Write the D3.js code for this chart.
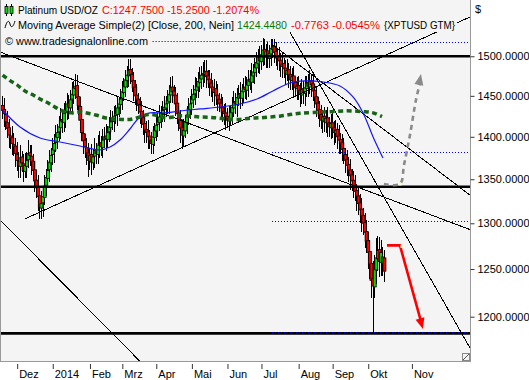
<!DOCTYPE html>
<html><head><meta charset="utf-8">
<script src="https://cdn.jsdelivr.net/npm/d3@7"></script>
<style>body{margin:0;background:#fff}svg{display:block;font-family:"Liberation Sans",Arial,sans-serif}</style>
</head><body><svg id="c" width="529" height="380"></svg>
<script>
// ---------- DATA ----------
const openP=[1438,1433,1427,1417,1411,1401,1399,1391,1389,1379,
1371,1365,1376,1368,1359,1365,1373,1381,1377,1371,
1361,1349,1341,1331,1317,1323,1329,1343,1351,1361,
1369,1379,1384,1393,1399,1406,1411,1421,1417,1429,
1431,1441,1435,1446,1451,1459,1463,1449,1437,1421,
1404,1396,1387,1381,1371,1379,1369,1377,1385,1379,
1391,1393,1387,1397,1401,1397,1406,1411,1419,1419,
1426,1427,1436,1439,1447,1454,1461,1469,1475,1483,
1477,1469,1461,1451,1446,1439,1431,1423,1416,1409,
1406,1401,1396,1391,1399,1407,1415,1417,1425,1427,
1433,1435,1441,1443,1451,1461,1456,1451,1441,1429,
1421,1411,1401,1407,1417,1425,1433,1441,1445,1453,
1457,1461,1467,1471,1477,1477,1481,1475,1471,1466,
1461,1454,1459,1451,1446,1441,1436,1431,1429,1425,
1419,1421,1429,1435,1443,1439,1447,1453,1447,1455,
1461,1457,1463,1471,1467,1475,1479,1485,1491,1499,
1493,1501,1509,1499,1507,1497,1503,1509,1513,1506,
1497,1501,1495,1487,1491,1485,1477,1483,1477,1469,
1475,1467,1459,1463,1457,1451,1459,1453,1459,1467,
1461,1469,1465,1457,1449,1441,1433,1427,1419,1425,
1417,1423,1417,1411,1417,1411,1404,1409,1401,1397,
1393,1386,1379,1373,1367,1361,1355,1349,1343,1337,
1331,1323,1316,1309,1301,1291,1281,1269,1256,1240,
1231,1249,1261,1271,1257,1256,1262];
const highP=[1450,1447,1434,1431,1421,1411,1413,1404,1398,1394,
1382,1390,1383,1379,1381,1382,1396,1390,1390,1380,
1371,1357,1355,1338,1337,1341,1355,1362,1372,1384,
1387,1398,1403,1414,1416,1425,1435,1431,1441,1444,
1454,1451,1457,1467,1469,1478,1476,1458,1448,1429,
1418,1403,1398,1393,1387,1391,1386,1398,1393,1402,
1407,1401,1409,1412,1415,1413,1424,1432,1431,1438,
1439,1450,1449,1458,1469,1472,1483,1488,1496,1496,
1485,1480,1470,1465,1453,1449,1444,1432,1427,1419,
1420,1408,1406,1413,1417,1427,1429,1439,1437,1444,
1450,1450,1457,1463,1474,1475,1464,1461,1453,1437,
1432,1420,1422,1426,1437,1447,1450,1459,1463,1473,
1472,1480,1486,1487,1493,1495,1495,1483,1482,1479,
1470,1471,1468,1465,1454,1452,1449,1440,1441,1435,
1437,1439,1448,1456,1454,1460,1463,1467,1465,1472,
1475,1474,1483,1482,1491,1490,1498,1506,1509,1513,
1515,1524,1522,1516,1518,1515,1522,1523,1523,1518,
1510,1512,1504,1505,1498,1495,1496,1491,1488,1485,
1487,1474,1474,1475,1466,1471,1468,1475,1475,1477,
1482,1477,1475,1465,1461,1448,1443,1439,1433,1436,
1432,1436,1424,1427,1429,1419,1420,1417,1414,1404,
1403,1398,1387,1384,1376,1374,1362,1359,1355,1345,
1342,1333,1329,1317,1311,1304,1290,1282,1267,1259,
1265,1284,1286,1285,1282,1274,1271];
const lowP=[1421,1412,1408,1398,1387,1386,1378,1377,1364,1360,
1352,1351,1358,1347,1351,1352,1363,1365,1355,1350,
1335,1329,1314,1305,1305,1307,1321,1331,1343,1347,
1358,1366,1369,1382,1385,1395,1397,1405,1406,1411,
1420,1421,1427,1430,1440,1446,1433,1426,1407,1395,
1380,1375,1366,1353,1361,1355,1361,1363,1368,1368,
1375,1377,1375,1387,1383,1387,1394,1396,1408,1406,
1416,1413,1424,1427,1432,1444,1448,1460,1461,1465,
1455,1444,1439,1431,1428,1415,1410,1402,1392,1393,
1386,1386,1379,1379,1389,1395,1400,1407,1411,1418,
1418,1424,1428,1428,1441,1441,1440,1425,1416,1407,
1393,1386,1388,1398,1403,1414,1421,1426,1435,1439,
1447,1447,1455,1459,1461,1466,1460,1460,1450,1448,
1442,1438,1439,1431,1430,1420,1418,1414,1408,1411,
1407,1413,1415,1424,1427,1424,1437,1434,1438,1441,
1446,1445,1448,1457,1454,1466,1465,1474,1479,1478,
1483,1487,1489,1485,1485,1485,1488,1498,1491,1487,
1482,1481,1474,1472,1472,1463,1468,1460,1457,1457,
1450,1448,1445,1445,1436,1440,1440,1438,1449,1448,
1452,1449,1444,1435,1424,1421,1412,1409,1405,1406,
1404,1400,1400,1397,1399,1390,1392,1386,1379,1380,
1371,1368,1357,1354,1347,1338,1337,1328,1325,1314,
1309,1300,1290,1287,1273,1267,1250,1239,1219,1184,
1219,1234,1248,1241,1243,1243,1236];
const closeP=[1432,1428,1418,1410,1402,1398,1392,1388,1380,1372,
1366,1375,1369,1360,1366,1372,1380,1378,1370,1360,
1348,1340,1330,1318,1322,1330,1342,1352,1360,1370,
1378,1385,1392,1400,1405,1412,1420,1418,1428,1432,
1440,1436,1445,1452,1460,1462,1448,1438,1420,1405,
1395,1388,1380,1372,1378,1370,1376,1384,1380,1390,
1392,1388,1396,1400,1398,1405,1412,1418,1420,1425,
1428,1435,1440,1446,1455,1462,1470,1476,1482,1476,
1468,1460,1450,1445,1438,1430,1422,1415,1408,1405,
1400,1395,1392,1400,1408,1414,1418,1424,1428,1432,
1436,1440,1444,1452,1460,1455,1450,1440,1428,1420,
1410,1402,1408,1418,1426,1434,1440,1446,1452,1458,
1462,1468,1472,1476,1478,1480,1474,1470,1465,1460,
1455,1458,1450,1445,1440,1435,1430,1428,1424,1420,
1422,1430,1436,1442,1440,1448,1452,1448,1456,1460,
1458,1464,1470,1468,1476,1480,1486,1492,1498,1494,
1502,1508,1500,1506,1498,1504,1510,1512,1505,1498,
1500,1494,1488,1490,1484,1478,1482,1476,1470,1474,
1466,1460,1462,1456,1452,1458,1454,1460,1466,1462,
1468,1464,1456,1448,1440,1432,1426,1420,1424,1418,
1422,1416,1412,1416,1410,1405,1408,1400,1396,1392,
1385,1378,1372,1366,1360,1354,1348,1342,1336,1330,
1322,1315,1308,1300,1290,1280,1268,1255,1238,1232,
1250,1262,1270,1258,1268,1263,1247.75];

// moving averages (bar index, value)
const maBlueIdx=[0,10.8,23.1,35.5,47.8,60.2,66.4,72.6,78.7,84.9,91.1,100.4,109.6,122,134.4,146.7,157.3,167.1,177.6,186.9,198.1,208.5,216.6,222.8,229,235.1];
const maBlueVal=[1432.5,1411.8,1398.6,1393.8,1389,1384.3,1387.8,1396.2,1409.4,1424,1428.9,1428.9,1431.3,1433.8,1436.2,1439.9,1446.1,1456.1,1466.1,1468.6,1467.3,1462.3,1448.6,1428.9,1399.8,1374.8];
const ma200Idx=[0,4.6,8.7,13.8,18,23.1,27.3,32.4,37.5,42.7,47.8,52.8,58.2,63.3,68.2,73.6,78.7,84.9,89.9,95.2,100.8,105.3,109.6,115.8,122,128.2,134.4,140.5,146.7,152.9,159.1,165.3,171.4,177.6,183.8,191.8,202.4,212.9,222.8,229,234.5];
const ma200Val=[1476,1469,1464,1456,1452,1446,1442,1436,1431,1429,1430,1428.5,1426,1423,1421.5,1421,1421,1424,1427,1426,1423,1424,1425.5,1425,1424,1423.5,1422.5,1421,1421,1422.5,1423,1424,1425,1427,1428.5,1429.5,1430.5,1431.5,1430.5,1429,1424.45];

// axis ticks
const xTickIdx=[9,31,54,74,95,117,139,160,183,204,226,253];
const xTickLabels=["Dez","2014","Feb","Mrz","Apr","Mai","Jun","Jul","Aug","Sep","Okt","Nov"];
const yTicks=[1200,1250,1300,1350,1400,1450,1500];

// drawings: horizontal levels, fib levels, trend lines [i1,p1,i2,p2]
const hLevels=[1500,1341.4,1183];
const fibLevels=[1519.1,1381.9,1302.4,1184.7];
const fibStartIdx=166.5;
const topDottedLevel=1520.3;
const trendLines=[[-1.6,1505.5,289,1292.9],[13.84,1304.9,289.5,1552],[-1.6,1303.8,88,1150],[166.3,1574,293.5,1155.3],[167.1,1514.6,289,1331.6]];
const greyArrowIdx=[235.7,245.6,248.1,251.8,255.5,258.6];
const greyArrowVal=[1344.5,1344.5,1366.6,1402.2,1444.9,1477.4];
const redArrowIdx=[237.6,245.6,259.8];
const redArrowVal=[1275.6,1275.6,1187.3];

// ---------- CHART ----------
const W=470,H=361;
const svg=d3.select("#c");
const x=d3.scaleLinear().domain([-1.607,288.9]).range([0,W]);
const y=d3.scaleLog().domain([1155.3,1574.1]).range([H,0]);
const yc=p=>Math.round(y(p))+0.5;

svg.append("rect").attr("x",0).attr("y",0).attr("width",W).attr("height",H).attr("fill","#f4f4f4");
svg.append("clipPath").attr("id","pc").append("rect").attr("x",0).attr("y",0).attr("width",W).attr("height",H);
const g=svg.append("g").attr("clip-path","url(#pc)");

// candles
const n=closeP.length;
const cg=g.append("g");
for(let i=0;i<n;i++){
  const cx=x(i),o=openP[i],c=closeP[i];
  cg.append("line").attr("x1",cx).attr("x2",cx).attr("y1",y(highP[i])).attr("y2",y(lowP[i]))
    .attr("stroke","#000").attr("stroke-width",1).attr("shape-rendering","crispEdges");
  const top=y(Math.max(o,c)),bot=y(Math.min(o,c));
  cg.append("rect").attr("x",cx-1.5).attr("width",3).attr("y",top).attr("height",Math.max(1,bot-top))
    .attr("fill",c>=o?"#00e000":"#ff0000").attr("stroke","#000").attr("stroke-width",0.8);
}

// horizontal levels
hLevels.forEach(p=>{
  g.append("line").attr("x1",0).attr("x2",W).attr("y1",y(p)).attr("y2",y(p))
   .attr("stroke","#000").attr("stroke-width",2.6);
});
// dotted
g.append("line").attr("x1",x(0)).attr("x2",x(fibStartIdx)-2).attr("y1",yc(topDottedLevel)).attr("y2",yc(topDottedLevel))
  .attr("stroke","#000").attr("stroke-width",1).attr("stroke-dasharray","1,2");
fibLevels.forEach(p=>{
  g.append("line").attr("x1",Math.round(x(fibStartIdx))).attr("x2",W).attr("y1",yc(p)).attr("y2",yc(p))
   .attr("stroke","#0000ff").attr("stroke-width",1).attr("stroke-dasharray","1,2");
});
// trend lines
trendLines.forEach(t=>{
  g.append("line").attr("x1",x(t[0])).attr("y1",y(t[1])).attr("x2",x(t[2])).attr("y2",y(t[3]))
   .attr("stroke","#000").attr("stroke-width",1).attr("shape-rendering","crispEdges");
});

// MAs
const lineGen=d3.line().x(d=>x(d[0])).y(d=>y(d[1])).curve(d3.curveCatmullRom);
g.append("path").attr("d",lineGen(maBlueIdx.map((d,i)=>[d,maBlueVal[i]])))
  .attr("fill","none").attr("stroke","#1515ff").attr("stroke-width",1.2);
g.append("path").attr("d",lineGen(ma200Idx.map((d,i)=>[d,ma200Val[i]])))
  .attr("fill","none").attr("stroke","#176417").attr("stroke-width",3.5).attr("stroke-dasharray","5,3.5");

// arrows
function arrowHead(pts,color){
  const a=pts[pts.length-2],b=pts[pts.length-1];
  const ang=Math.atan2(b[1]-a[1],b[0]-a[0]);
  const L=11,Wd=4.5;
  const bx=b[0]-L*Math.cos(ang),by=b[1]-L*Math.sin(ang);
  const px=-Math.sin(ang)*Wd,py=Math.cos(ang)*Wd;
  g.append("path").attr("d",`M${b[0]},${b[1]}L${bx+px},${by+py}L${bx-px},${by-py}Z`).attr("fill",color);
}
const gp=greyArrowIdx.map((d,i)=>[x(d),y(greyArrowVal[i])]);
const gpath=d3.line().curve(d3.curveCatmullRom);
g.append("path").attr("d",gpath(gp.slice(0,-1).concat([[gp[gp.length-1][0]-1,gp[gp.length-1][1]+9]])))
  .attr("fill","none").attr("stroke","#8a8a8a").attr("stroke-width",2.6).attr("stroke-dasharray","5,4");
arrowHead(gp,"#8a8a8a");
const rp=redArrowIdx.map((d,i)=>[x(d),y(redArrowVal[i])]);
g.append("path").attr("d",d3.line()(rp.slice(0,-1).concat([[rp[2][0]-2,rp[2][1]-8]])))
  .attr("fill","none").attr("stroke","#ff0000").attr("stroke-width",2.6);
arrowHead(rp,"#ff0000");
[[gp[1][0],gp[1][1]],[rp[1][0]+2,rp[1][1]+1]].forEach(p=>{
  g.append("rect").attr("x",p[0]-1.5).attr("y",p[1]-1.5).attr("width",3).attr("height",3).attr("fill","#ffffd0");
});

// resize handle
g.append("rect").attr("x",W-7.5).attr("y",H-7.5).attr("width",7).attr("height",7).attr("fill","#f4f4f4").attr("stroke","#888");
g.append("line").attr("x1",W-7).attr("y1",H-1).attr("x2",W-1).attr("y2",H-7).attr("stroke","#555");

// frame
svg.append("line").attr("x1",0.5).attr("x2",0.5).attr("y1",0).attr("y2",H).attr("stroke","#999");
svg.append("line").attr("x1",0).attr("x2",W).attr("y1",H+0.5).attr("y2",H+0.5).attr("stroke","#999");
svg.append("line").attr("x1",W+0.5).attr("x2",W+0.5).attr("y1",0).attr("y2",H+1).attr("stroke","#999");

// y axis
const ya=svg.append("g").attr("transform",`translate(${W+0.5},0)`)
  .call(d3.axisRight(y).tickValues(yTicks).tickFormat(d3.format(".4f")).tickSize(4).tickPadding(3));
ya.select(".domain").remove();
ya.selectAll(".tick line").attr("stroke","#333");
ya.selectAll(".tick text").attr("font-size","11px").attr("fill","#000").attr("font-family","Liberation Sans, Arial, sans-serif");
svg.append("text").attr("x",475).attr("y",13).attr("font-size","11px").text("$");

// x axis
const xa=svg.append("g").attr("transform",`translate(0,${H+3})`)
  .call(d3.axisBottom(x).tickValues(xTickIdx).tickFormat((d,i)=>xTickLabels[i]).tickSize(5));
xa.select(".domain").remove();
xa.selectAll(".tick line").attr("stroke","#333");
xa.selectAll(".tick text").attr("text-anchor","start").attr("x",1.5).attr("y",14).attr("dy",0)
  .attr("font-size","11px").attr("fill","#000").attr("font-family","Liberation Sans, Arial, sans-serif");

// legend
const lg=svg.append("g");
lg.append("rect").attr("x",1).attr("y",0).attr("width",456).attr("height",32).attr("fill","#f4f4f4");
lg.append("rect").attr("x",1).attr("y",32).attr("width",150).attr("height",15).attr("fill","#f4f4f4");
function seg(txt,x0,x1,yb,col){
  lg.append("text").attr("x",x0).attr("y",yb).attr("font-size","11px").attr("fill",col)
    .attr("textLength",x1-x0).attr("lengthAdjust","spacingAndGlyphs").text(txt);
}
seg("Platinum USD/OZ",18,98,14,"#000");
seg("C:1247.7500 -15.2500 -1.2074%",102,259,14,"#ff0000");
seg("Moving Average Simple(2) [Close, 200, Nein]",18,234,29,"#000");
seg("1424.4480",237,287,29,"#0a7a0a");
seg("-0.7763 -0.0545%",291,380,29,"#ff0000");
seg("{XPTUSD GTM}",384,455,29,"#000");
seg("\u00A9 www.tradesignalonline.com",5,148,45,"#000");
// icons
[[5,"#00e000"],[10,"#00e000"]].forEach(([ix,col])=>{
  lg.append("line").attr("x1",ix+1.5).attr("x2",ix+1.5).attr("y1",4).attr("y2",16).attr("stroke","#000");
  lg.append("rect").attr("x",ix).attr("y",6.5).attr("width",3).attr("height",7).attr("fill",col).attr("stroke","#000").attr("stroke-width",0.8);
});
lg.append("path").attr("d","M5,28 C7,20 9,20 10,24 C11,28 13,28 15,21").attr("fill","none").attr("stroke","#000").attr("stroke-width",1);
</script>
</body></html>
